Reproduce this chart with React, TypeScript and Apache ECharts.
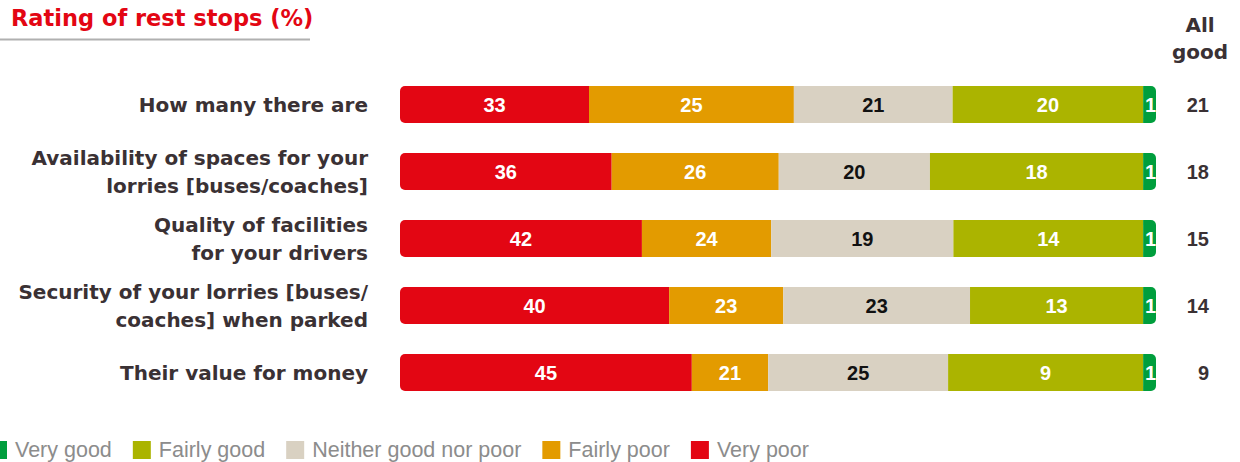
import React, { useEffect, useRef } from "react";
import * as echarts from "echarts";

const categories = [
  "How many there are",
  "Availability of spaces for your\nlorries [buses/coaches]",
  "Quality of facilities\nfor your drivers",
  "Security of your lorries [buses/\ncoaches] when parked",
  "Their value for money",
];

// Printed percentages (labels)
const veryPoor = [33, 36, 42, 40, 45];
const fairlyPoor = [25, 26, 24, 23, 21];
const neither = [21, 20, 19, 23, 25];
const fairlyGood = [20, 18, 14, 13, 9];
const veryGood = [1, 1, 1, 1, 1];
const allGood = [21, 18, 15, 14, 9];

// Drawn segment lengths as a share (%) of each bar
const veryPoorLen = [25.0, 28.0, 32.0, 35.6, 38.6];
const fairlyPoorLen = [27.1, 22.1, 17.1, 15.1, 10.1];
const neitherLen = [21.0, 20.0, 24.1, 24.7, 23.8];
const fairlyGoodLen = [25.2, 28.2, 25.1, 22.9, 25.8];
const veryGoodLen = [1.7, 1.7, 1.7, 1.7, 1.7];

const seriesNames = ["Very poor", "Fairly poor", "Neither good nor poor", "Fairly good", "Very good"];
const legendOrder = ["Very good", "Fairly good", "Neither good nor poor", "Fairly poor", "Very poor"];

export default function App() {
  const ref = useRef<HTMLDivElement>(null);
  useEffect(() => {
    if (!ref.current) return;
    const chart = echarts.init(ref.current, null, { renderer: "svg" });
    const colors = ["#e30613", "#e39b00", "#d9d1c2", "#abb400", "#009e3d"];
    const labelsArr = [veryPoor, fairlyPoor, neither, fairlyGood, veryGood];
    const lensArr = [veryPoorLen, fairlyPoorLen, neitherLen, fairlyGoodLen, veryGoodLen];
    const radii = [[5, 0, 0, 5], 0, 0, 0, [0, 5, 5, 0]];
    const series = seriesNames.map((name, i) => ({
      name,
      type: "bar",
      stack: "total",
      barWidth: 37,
      yAxisIndex: 0,
      itemStyle: { color: colors[i], borderRadius: radii[i] as any },
      label: {
        show: true,
        position: "inside",
        formatter: (p: any) => String(labelsArr[i][p.dataIndex]),
        color: i === 2 ? "#111111" : "#ffffff",
        fontFamily: "Liberation Sans",
        fontWeight: "bold",
        fontSize: 20,
        offset: i === 4 ? [1, 0] : [0, 0],
      },
      emphasis: { disabled: true },
      data: lensArr[i],
    }));

    chart.setOption({
      animation: false,
      title: [
        {
          text: "Rating of rest stops (%)",
          left: 6,
          top: 1,
          textStyle: {
            color: "#e30613",
            fontFamily: "DejaVu Sans",
            fontWeight: "bold",
            fontSize: 22.5,
          },
        },
        {
          text: "All\ngood",
          left: 1195,
          textAlign: "center",
          top: 6,
          textStyle: {
            color: "#3a3134",
            fontFamily: "DejaVu Sans",
            fontWeight: "bold",
            fontSize: 20,
            lineHeight: 27,
          },
        },
      ],
      graphic: [
        {
          type: "line",
          shape: { x1: 0, y1: 39.5, x2: 310, y2: 39.5 },
          style: { stroke: "#b0b0b0", lineWidth: 2 },
        },
      ],
      legend: {
        data: legendOrder,
        left: -11,
        top: 439,
        padding: 0,
        itemWidth: 18,
        itemHeight: 18,
        itemGap: 21,
        icon: "rect",
        selectedMode: false,
        textStyle: {
          color: "#8c8c8c",
          fontFamily: "Liberation Sans",
          fontSize: 21.5,
          padding: [0, 0, 0, 3],
        },
      },
      grid: { left: 400, right: 84, top: 71, height: 335, containLabel: false },
      xAxis: { type: "value", min: 0, max: 100, show: false },
      yAxis: [
        {
          type: "category",
          inverse: true,
          data: categories,
          axisLine: { show: false },
          axisTick: { show: false },
          splitLine: { show: false },
          axisLabel: {
            margin: 32,
            color: "#3a3134",
            fontFamily: "DejaVu Sans",
            fontWeight: "bold",
            fontSize: 20,
            lineHeight: 28,
          },
        },
        {
          type: "category",
          inverse: true,
          position: "right",
          data: allGood.map(String),
          axisLine: { show: false },
          axisTick: { show: false },
          splitLine: { show: false },
          axisLabel: {
            margin: 53,
            align: "right",
            color: "#3a3134",
            fontFamily: "Liberation Sans",
            fontWeight: "bold",
            fontSize: 20,
          },
        },
      ],
      series,
    });
    return () => chart.dispose();
  }, []);
  return <div ref={ref} style={{ width: 1240, height: 462, position: "absolute", left: 0, top: 0 }} />;
}
